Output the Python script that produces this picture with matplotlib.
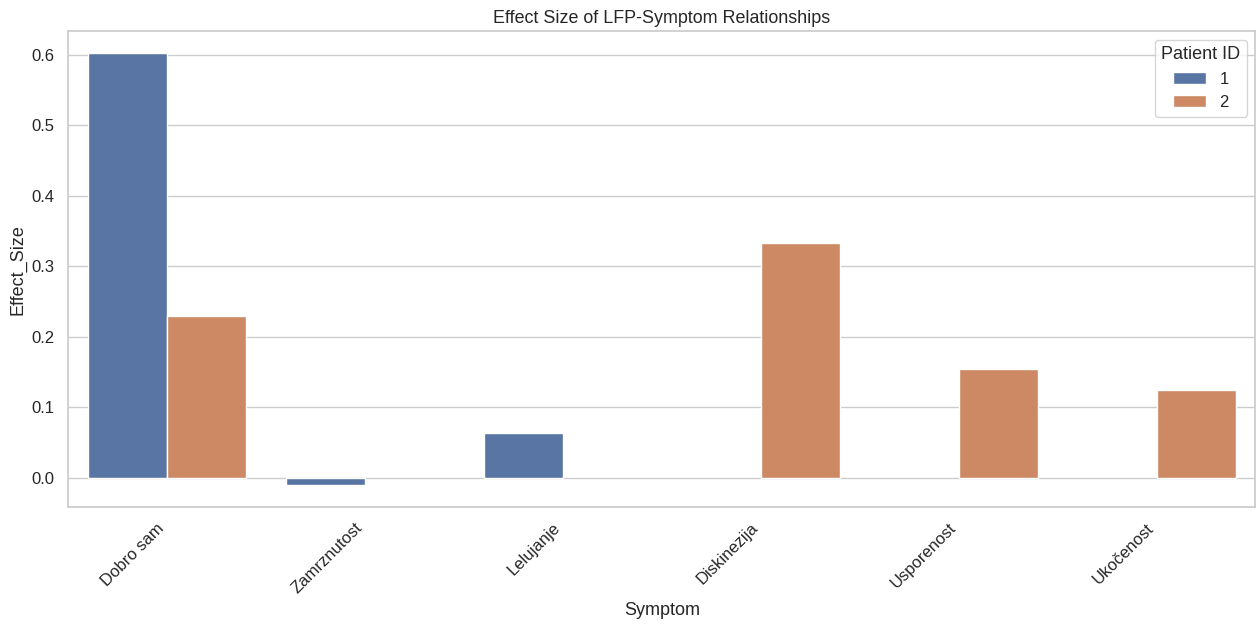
import numpy as np
import pandas as pd
import matplotlib
matplotlib.use("Agg")
import matplotlib.pyplot as plt
import seaborn as sns

symptoms = ["Dobro sam", "Zamrznutost", "Lelujanje", "Diskinezija", "Usporenost", "Ukočenost"]
patient_1 = [0.603, -0.011, 0.064, np.nan, np.nan, np.nan]
patient_2 = [0.230, np.nan, np.nan, 0.333, 0.155, 0.124]

df = pd.DataFrame({
    "Symptom": symptoms * 2,
    "Effect_Size": patient_1 + patient_2,
    "Patient ID": ["1"] * len(symptoms) + ["2"] * len(symptoms),
})

sns.set_theme(style="whitegrid")
plt.rcParams['font.family'] = ['Liberation Sans', 'DejaVu Sans']

fig, ax = plt.subplots(figsize=(12.58, 6.26), dpi=100)
sns.barplot(data=df, x="Symptom", y="Effect_Size", hue="Patient ID", ax=ax)
ax.set_title("Effect Size of LFP-Symptom Relationships", fontsize=12.9)
ax.set_xlabel("Symptom", fontsize=13)
ax.set_ylabel("Effect_Size", fontsize=13)
ax.tick_params(axis="both", labelsize=12)
plt.setp(ax.get_xticklabels(), rotation=45, ha="right")
ax.legend(title="Patient ID", loc="upper right", fontsize=12, title_fontsize=13)
fig.subplots_adjust(left=0.054, right=0.998, top=0.95, bottom=0.19)
fig.savefig("out.png", dpi=100)
